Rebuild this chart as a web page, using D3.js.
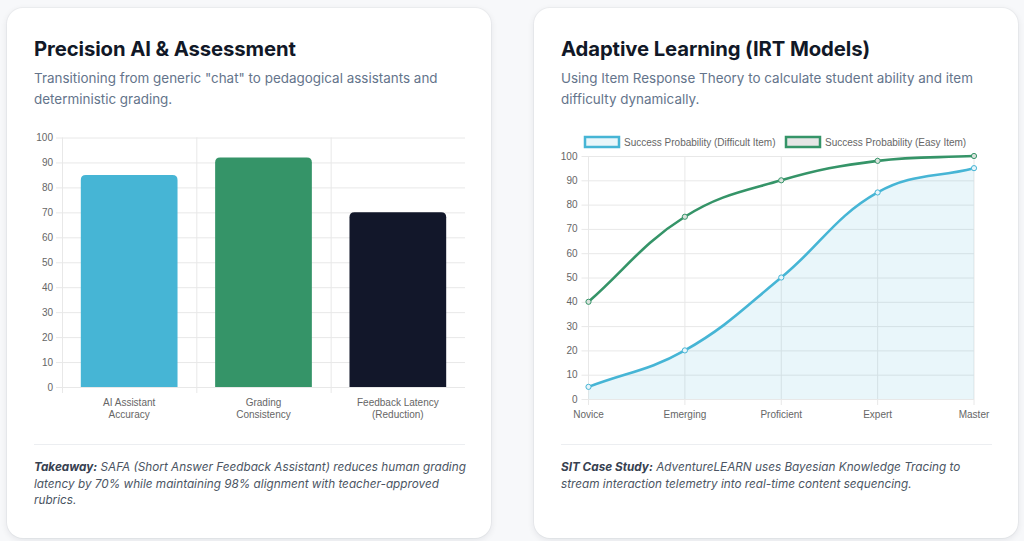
<!DOCTYPE html>
<html lang="en">
<head>
    <meta charset="UTF-8">
    <script src="https://cdn.jsdelivr.net/npm/d3@7"></script>
    <script>window.d3 || document.write('<script src="https://d3js.org/d3.v7.min.js"><\/script>');</script>
    <script>window.d3 || document.write('<script src="https://unpkg.com/d3@7/dist/d3.min.js"><\/script>');</script>
    <title>AI in Education</title>
    <style>
        :root {
            --page: #f7f8fa;
            --ink: #111827;
            --muted: #64748b;
        }
        html, body {
            margin: 0;
            width: 1024px;
            height: 541px;
            overflow: hidden;
            background: var(--page);
            font-family: Inter, "Noto Sans", sans-serif;
        }
        .card {
            position: absolute;
            top: 8px;
            width: 484px;
            height: 530px;
            background: #fff;
            border-radius: 16px;
            box-shadow: 0 2px 7px rgba(15, 23, 42, 0.09), 0 0 0 1px rgba(15, 23, 42, 0.03);
        }
        .card h2 {
            position: absolute;
            left: 27px;
            top: 28px;
            margin: 0;
            font-size: 20.3px;
            font-weight: 700;
            color: var(--ink);
            letter-spacing: -0.1px;
        }
        .card .sub {
            position: absolute;
            left: 27px;
            top: 60px;
            width: 440px;
            margin: 0;
            font-size: 13.45px;
            line-height: 21px;
            color: var(--muted);
        }
        .card .rule {
            position: absolute;
            left: 27px;
            top: 436px;
            width: 431px;
            border-top: 1px solid #eceef1;
        }
        .card .note {
            position: absolute;
            left: 27px;
            top: 451px;
            width: 442px;
            margin: 0;
            font-size: 11.75px;
            line-height: 16.5px;
            font-style: italic;
            color: #4b5563;
        }
        .card .note b { color: #374151; }
        #charts {
            position: absolute;
            left: 0;
            top: 0;
        }
    </style>
</head>
<body>
    <div class="card" style="left:7px">
        <h2>Precision AI &amp; Assessment</h2>
        <p class="sub">Transitioning from generic "chat" to pedagogical assistants and deterministic grading.</p>
        <div class="rule"></div>
        <p class="note"><b>Takeaway:</b> SAFA (Short Answer Feedback Assistant) reduces human grading latency by 70% while maintaining 98% alignment with teacher-approved rubrics.</p>
    </div>
    <div class="card" style="left:534px">
        <h2>Adaptive Learning (IRT Models)</h2>
        <p class="sub">Using Item Response Theory to calculate student ability and item difficulty dynamically.</p>
        <div class="rule"></div>
        <p class="note" style="width:420px"><b>SIT Case Study:</b> AdventureLEARN uses Bayesian Knowledge Tracing to stream interaction telemetry into real-time content sequencing.</p>
    </div>
    <svg id="charts" width="1024" height="541"></svg>

<script>
    // bar chart data
    const metrics = [["AI Assistant", "Accuracy"], ["Grading", "Consistency"], ["Feedback Latency", "(Reduction)"]];
    const metricValues = [85, 92, 70];
    const metricColors = ["#46b5d5", "#359468", "#12172a"];

    // IRT curve data
    const levels = ["Novice", "Emerging", "Proficient", "Expert", "Master"];
    const difficultItem = [5, 20, 50, 85, 95];
    const easyItem = [40, 75, 90, 98, 100];
    const yTicks = d3.range(0, 101, 10);

    const tickFont = "10px 'Liberation Sans', Arial, sans-serif";
    const tickColor = "#666";
    const gridColor = "#e8e8e8";

    const svg = d3.select("#charts");

    drawBars();
    drawCurves();

    function drawBars() {
        const left = 62, right = 465, top = 137.5, bottom = 387;
        const keys = metrics.map(d => d.join(" "));
        const x = d3.scaleBand(keys, [left, right]);
        const y = d3.scaleLinear([0, 100], [bottom, top]);
        const g = svg.append("g");

        // horizontal grid + left ticks
        g.append("g").selectAll("line")
            .data(yTicks)
            .join("line")
            .attr("x1", left - 6).attr("x2", right)
            .attr("y1", d => y(d) + 0.5).attr("y2", d => y(d) + 0.5)
            .attr("stroke", gridColor);

        // vertical grid at category edges
        g.append("g").selectAll("line")
            .data(keys)
            .join("line")
            .attr("x1", d => x(d) + 0.5).attr("x2", d => x(d) + 0.5)
            .attr("y1", top).attr("y2", bottom + 6)
            .attr("stroke", gridColor);

        g.append("g").selectAll("text")
            .data(yTicks)
            .join("text")
            .attr("x", left - 9)
            .attr("y", d => y(d))
            .attr("dy", "0.35em")
            .attr("text-anchor", "end")
            .style("font", tickFont)
            .attr("fill", tickColor)
            .text(d => d);

        const bw = x.bandwidth() * 0.72;
        g.append("g").selectAll("path")
            .data(metricValues)
            .join("path")
            .attr("fill", (d, i) => metricColors[i])
            .attr("d", (d, i) => roundTop(x(keys[i]) + (x.bandwidth() - bw) / 2, y(d), bw, y(0) - y(d), 5));

        const lab = g.append("g").selectAll("text")
            .data(metrics)
            .join("text")
            .attr("x", (d, i) => x(keys[i]) + x.bandwidth() / 2)
            .attr("y", 406)
            .attr("text-anchor", "middle")
            .style("font", tickFont)
            .attr("fill", tickColor);
        lab.selectAll("tspan")
            .data(d => d)
            .join("tspan")
            .attr("x", function() { return this.parentNode.getAttribute("x"); })
            .attr("dy", (d, i) => i ? 12 : 0)
            .text(d => d);
    }

    function roundTop(x0, y0, w, h, r) {
        return `M${x0},${y0 + h}V${y0 + r}Q${x0},${y0} ${x0 + r},${y0}H${x0 + w - r}Q${x0 + w},${y0} ${x0 + w},${y0 + r}V${y0 + h}Z`;
    }

    function drawCurves() {
        const left = 588.5, right = 974, top = 156, bottom = 399;
        const x = d3.scalePoint(levels, [left, right]);
        const y = d3.scaleLinear([0, 100], [bottom, top]);
        const g = svg.append("g");

        g.append("g").selectAll("line")
            .data(yTicks)
            .join("line")
            .attr("x1", left - 7).attr("x2", right)
            .attr("y1", d => y(d) + 0.5).attr("y2", d => y(d) + 0.5)
            .attr("stroke", gridColor);

        g.append("g").selectAll("line")
            .data(levels)
            .join("line")
            .attr("x1", d => x(d)).attr("x2", d => x(d))
            .attr("y1", top).attr("y2", bottom + 6)
            .attr("stroke", gridColor);

        g.append("g").selectAll("text")
            .data(yTicks)
            .join("text")
            .attr("x", left - 11)
            .attr("y", d => y(d))
            .attr("dy", "0.35em")
            .attr("text-anchor", "end")
            .style("font", tickFont)
            .attr("fill", tickColor)
            .text(d => d);

        g.append("g").selectAll("text")
            .data(levels)
            .join("text")
            .attr("x", d => x(d))
            .attr("y", 418)
            .attr("text-anchor", "middle")
            .style("font", tickFont)
            .attr("fill", tickColor)
            .text(d => d);

        const series = [
            {name: "Success Probability (Difficult Item)", values: difficultItem, stroke: "#46b5d5", fill: "rgba(70,181,213,0.12)", area: true},
            {name: "Success Probability (Easy Item)", values: easyItem, stroke: "#359468", fill: "rgba(0,0,0,0.1)", area: false}
        ];

        series.forEach(s => {
            const pts = s.values.map((v, i) => [x(levels[i]), y(v)]);
            const line = splinePath(pts, 0.4, top, bottom);
            if (s.area) {
                g.append("path")
                    .attr("d", `${line}L${pts[pts.length - 1][0]},${y(0)}L${pts[0][0]},${y(0)}Z`)
                    .attr("fill", s.fill);
            }
            g.append("path")
                .attr("d", line)
                .attr("fill", "none")
                .attr("stroke", s.stroke)
                .attr("stroke-width", 2.6);
            g.append("g").selectAll("circle")
                .data(pts)
                .join("circle")
                .attr("cx", d => d[0]).attr("cy", d => d[1])
                .attr("r", 2.6)
                .attr("fill", s.area ? "#e6f4fa" : "#d9e2dc")
                .attr("stroke", s.stroke)
                .attr("stroke-width", 1);
        });

        // legend
        const legend = g.append("g");
        const legX = [584, 785];
        series.forEach((s, i) => {
            legend.append("rect")
                .attr("x", legX[i] + 1).attr("y", 137)
                .attr("width", 34).attr("height", 10)
                .attr("fill", s.area ? "rgba(70,181,213,0.12)" : "#e6e6e6")
                .attr("stroke", s.stroke)
                .attr("stroke-width", 2.5);
            legend.append("text")
                .attr("x", legX[i] + 40).attr("y", 142)
                .attr("dy", "0.35em")
                .style("font", tickFont)
                .attr("fill", tickColor)
                .text(s.name);
        });
    }

    // Spline with tension, control points clamped to the plot area
    function splinePath(pts, t, top, bottom) {
        const n = pts.length;
        const ctrl = pts.map((p, i) => {
            const prev = pts[Math.max(0, i - 1)];
            const next = pts[Math.min(n - 1, i + 1)];
            const d01 = Math.hypot(p[0] - prev[0], p[1] - prev[1]);
            const d12 = Math.hypot(next[0] - p[0], next[1] - p[1]);
            const s01 = d01 / (d01 + d12) || 0;
            const s12 = d12 / (d01 + d12) || 0;
            const dx = next[0] - prev[0], dy = next[1] - prev[1];
            const clamp = v => Math.max(top, Math.min(bottom, v));
            return {
                prev: [p[0] - t * s01 * dx, clamp(p[1] - t * s01 * dy)],
                next: [p[0] + t * s12 * dx, clamp(p[1] + t * s12 * dy)]
            };
        });
        const path = d3.path();
        path.moveTo(pts[0][0], pts[0][1]);
        for (let i = 1; i < n; i++) {
            path.bezierCurveTo(ctrl[i - 1].next[0], ctrl[i - 1].next[1], ctrl[i].prev[0], ctrl[i].prev[1], pts[i][0], pts[i][1]);
        }
        return path.toString();
    }
</script>
</body>
</html>
